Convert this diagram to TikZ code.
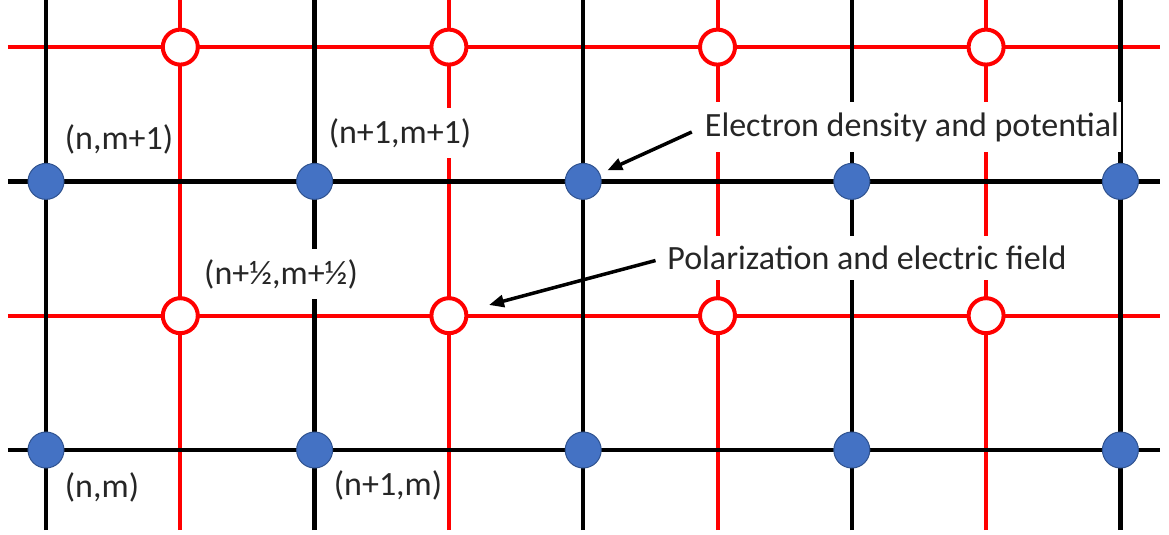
\documentclass[tikz,border=0pt]{standalone}
\usepackage{fontspec}
\setmainfont{Carlito}
\usetikzlibrary{arrows.meta}

\definecolor{dotblue}{HTML}{4472C4}
\definecolor{dotedge}{HTML}{2F528F}

\tikzset{
  dens/.style={circle,fill=dotblue,draw=dotedge,line width=1pt,minimum size=36pt,inner sep=0pt},
  polc/.style={circle,fill=white,draw=red,line width=4pt,minimum size=35pt,inner sep=0pt},
  lbl/.style={fill=white,inner xsep=2pt,inner ysep=10pt,text=black!85,font=\fontsize{34}{40}\selectfont},
  pointer/.style={-{Triangle[length=15pt,width=12pt]},line width=3.5pt}
}

\begin{document}
\begin{tikzpicture}[x=134.3pt,y=134.3pt]
  \useasboundingbox (-0.3425,-0.6329) rectangle (8.3619,3.3507);
  % red grid (half steps)
  \foreach \i in {1,3,5,7}
    \draw[red,line width=4pt] (\i,-0.5957) -- (\i,3.4);
  \foreach \j in {1,3}
    \draw[red,line width=4pt] (-0.283,\j) -- (8.295,\j);
  % black grid
  \foreach \i in {0,2,4,6,8}
    \draw[line width=4.5pt] (\i,-0.5957) -- (\i,3.4);
  \foreach \j in {0,2}
    \draw[line width=4.5pt] (-0.283,\j) -- (8.295,\j);

  % labels
  \node[lbl] (nm1)  at (0.5436,2.3157) {(n,m+1)};
  \node[lbl] (n1m1) at (2.636,2.360) {(n+1,m+1)};
  \node[lbl] (nhmh) at (1.750,1.310) {(n+½,m+½)};
  \node[lbl] (nm)   at (0.417,-0.2755) {(n,m)};
  \node[lbl] (n1m)  at (2.547,-0.2606) {(n+1,m)};
  \node[lbl] (elec) at (6.448,2.405) {Electron density and potential};
  \node[lbl] (pol)  at (6.113,1.430) {Polarization and electric field};

  % sites
  \foreach \i in {0,2,4,6,8}
    \foreach \j in {0,2}
      \node[dens] (d\i\j) at (\i,\j) {};
  \foreach \i in {1,3,5,7}
    \foreach \j in {1,3}
      \node[polc] (p\i\j) at (\i,\j) {};

  \draw[pointer,shorten <=12pt,shorten >=8pt] (elec.west) -- (d42);
  \draw[pointer,shorten <=10pt,shorten >=22pt] (pol.west) -- (p31);
\end{tikzpicture}
\end{document}
